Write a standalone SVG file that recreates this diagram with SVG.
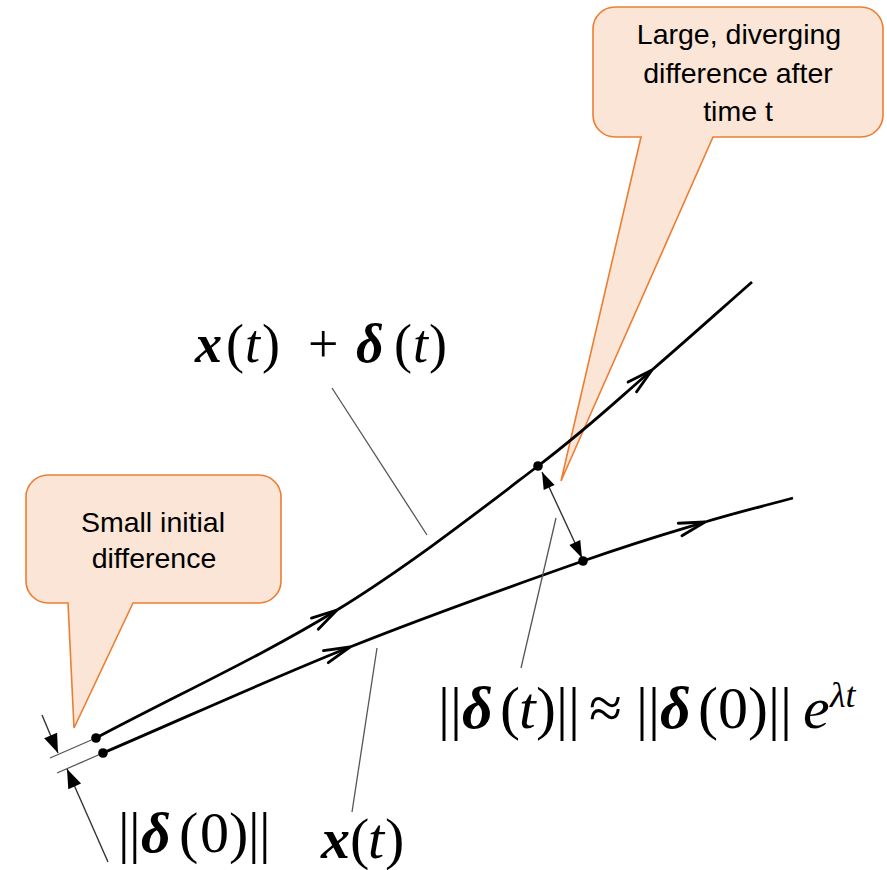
<svg xmlns="http://www.w3.org/2000/svg" width="887" height="870" viewBox="0 0 887 870">
<style>
.call{fill:#FBE5D6;stroke:#ED7D31;stroke-width:1.6}
.ct{font-family:"Liberation Sans",Arial,sans-serif;font-size:28.5px;fill:#000;text-anchor:middle}
.traj{fill:none;stroke:#000;stroke-width:2.8}
.lead{fill:none;stroke:#555;stroke-width:1.3}
.dim{fill:none;stroke:#333;stroke-width:1.4}
.m{font-family:"Liberation Serif","Times New Roman",serif;fill:#000}
.bi{font-weight:bold;font-style:italic}
.it{font-style:italic}
</style>
<defs>
<marker id="chev" markerUnits="userSpaceOnUse" viewBox="-30 -12 34 24" markerWidth="34" markerHeight="24" refX="0" refY="0" orient="auto" overflow="visible">
<path d="M-26,-6.5 L0,0 L-26,6.5" fill="none" stroke="#000" stroke-width="2.8" stroke-linecap="round" stroke-linejoin="miter"/>
</marker>
<marker id="tri" markerUnits="userSpaceOnUse" viewBox="-22 -10 24 20" markerWidth="24" markerHeight="20" refX="0" refY="0" orient="auto" overflow="visible">
<path d="M-19,-7 L0,0 L-19,7 Z" fill="#000"/>
</marker>
<marker id="tri2" markerUnits="userSpaceOnUse" viewBox="-22 -10 24 20" markerWidth="24" markerHeight="20" refX="0" refY="0" orient="auto" overflow="visible">
<path d="M-17,-6 L0,0 L-17,6 Z" fill="#000"/>
</marker>
<marker id="tri2s" markerUnits="userSpaceOnUse" viewBox="-2 -10 24 20" markerWidth="24" markerHeight="20" refX="0" refY="0" orient="auto" overflow="visible">
<path d="M17,-6 L0,0 L17,6 Z" fill="#000"/>
</marker>
</defs>

<g id="callout-small">
<path class="call" d="M48,475 H259 A22,22 0 0 1 281,497 V581 A22,22 0 0 1 259,603 H133 L74,728 L68,603 H48 A22,22 0 0 1 26,581 V497 A22,22 0 0 1 48,475 Z"/>
<text class="ct" x="153" y="532">Small initial</text>
<text class="ct" x="154" y="568">difference</text>
</g>

<g id="callout-large">
<path class="call" d="M615,7 H861 A22,22 0 0 1 883,29 V115 A22,22 0 0 1 861,137 H713 L561,481 L641,137 H615 A22,22 0 0 1 593,115 V29 A22,22 0 0 1 615,7 Z"/>
<text class="ct" x="739" y="44">Large, diverging</text>
<text class="ct" x="738" y="83">difference after</text>
<text class="ct" x="738" y="121">time t</text>
</g>

<g id="connectors">
<path class="traj" d="M96,738 C176.3,695.3 263.3,655.3 337,610" marker-end="url(#chev)"/>
<path class="traj" d="M337,610 C410.7,564.7 485.5,506 538,466 C590.5,426 616.3,400.7 652,370" marker-end="url(#chev)"/>
<path class="traj" d="M652,370 C687.7,339.3 718.7,311.3 752,282"/>
<path class="traj" d="M103,753 C185.3,717.7 270,679 350,647" marker-end="url(#chev)"/>
<path class="traj" d="M350,647 C430,615 523.8,581.8 583,561 C642.2,540.2 670,532.5 705,522" marker-end="url(#chev)"/>
<path class="traj" d="M705,522 C740,511.5 763.7,506 793,498"/>
<line class="lead" x1="332" y1="388" x2="427" y2="535"/>
<line class="lead" x1="377" y1="648" x2="352" y2="812"/>
<line class="lead" x1="556" y1="518" x2="521" y2="668"/>
<line class="lead" x1="96" y1="738" x2="50" y2="758"/>
<line class="lead" x1="103" y1="753" x2="57" y2="773"/>
<line class="dim" x1="42" y1="715" x2="58" y2="753" marker-end="url(#tri)"/>
<line class="dim" x1="108" y1="862" x2="67" y2="769" marker-end="url(#tri)"/>
<line class="dim" x1="542" y1="472" x2="582" y2="558" marker-start="url(#tri2s)" marker-end="url(#tri2)"/>
</g>

<g id="dots">
<circle cx="96" cy="738" r="4.8"/>
<circle cx="103" cy="753" r="4.8"/>
<circle cx="538" cy="466" r="4.8"/>
<circle cx="583" cy="561" r="4.8"/>
</g>

<g id="label-xt-delta">
<text class="m" font-size="54"><tspan class="bi" x="195" y="362">x</tspan><tspan x="226" y="362">(</tspan><tspan class="it" x="245" y="362">t</tspan><tspan x="262" y="362">)</tspan><tspan x="308" y="362">+</tspan><tspan class="bi" x="356" y="362">δ</tspan><tspan x="394" y="362">(</tspan><tspan class="it" x="413" y="362">t</tspan><tspan x="429" y="362">)</tspan></text>
</g>

<g id="label-delta0">
<text class="m" font-size="58"><tspan x="118" y="852">|</tspan><tspan x="129" y="852">|</tspan><tspan class="bi" x="141" y="852">δ</tspan><tspan x="179" y="852">(</tspan><tspan x="200" y="852">0</tspan><tspan x="229" y="852">)</tspan><tspan x="248" y="852">|</tspan><tspan x="259" y="852">|</tspan></text>
</g>

<g id="label-xt">
<text class="m" font-size="58"><tspan class="bi" x="321" y="858">x</tspan><tspan x="350" y="858">(</tspan><tspan class="it" x="368" y="858">t</tspan><tspan x="385" y="858">)</tspan></text>
</g>

<g id="label-growth">
<text class="m" font-size="60"><tspan x="438" y="728">|</tspan><tspan x="450" y="728">|</tspan><tspan class="bi" x="462" y="728">δ</tspan><tspan x="500" y="728">(</tspan><tspan class="it" x="519" y="728">t</tspan><tspan x="536" y="728">)</tspan><tspan x="556" y="728">|</tspan><tspan x="568" y="728">|</tspan><tspan x="589" y="728">≈</tspan><tspan x="636" y="728">|</tspan><tspan x="648" y="728">|</tspan><tspan class="bi" x="660" y="728">δ</tspan><tspan x="698" y="728">(</tspan><tspan x="718" y="728">0</tspan><tspan x="748" y="728">)</tspan><tspan x="768" y="728">|</tspan><tspan x="780" y="728">|</tspan><tspan class="it" x="803" y="728">e</tspan><tspan class="it" x="830" y="707" font-size="36">λt</tspan></text>
</g>
</svg>
